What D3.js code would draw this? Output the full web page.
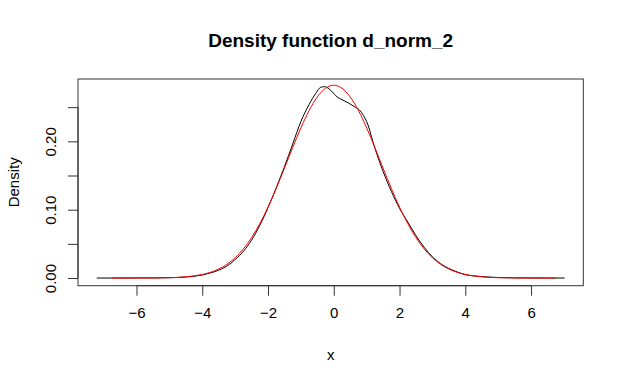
<!DOCTYPE html>
<html>
<head>
<meta charset="utf-8">
<script src="https://cdn.jsdelivr.net/npm/d3@7"></script>
<style>
  body { margin: 0; background: #fff; }
  svg text { font-family: "Liberation Sans", Arial, sans-serif; fill: #000; }
</style>
</head>
<body>
<div class="chart"></div>
<script>
// kernel density of the sample (black)
var densX = [-7.21, -6.5, -6.0, -5.5, -5.0, -4.5, -4.0, -3.75, -3.5, -3.25, -3.0, -2.75, -2.5, -2.25,
             -2.0, -1.75, -1.5, -1.25, -1.0, -0.75, -0.55, -0.40, -0.28, -0.15, 0.0, 0.1, 0.25, 0.45,
             0.65, 0.78, 0.90, 1.0, 1.25, 1.5, 1.75, 2.0, 2.25, 2.5, 2.75, 3.0, 3.25, 3.5, 3.75,
             4.0, 4.5, 5.0, 5.5, 6.0, 6.5, 7.02];
var densY = [0, 0.0000, 0.0001, 0.0002, 0.0005, 0.0015, 0.0045, 0.0075, 0.0115, 0.0175, 0.0270, 0.0390, 0.0555, 0.0770,
             0.1030, 0.1320, 0.1630, 0.1960, 0.2290, 0.2540, 0.2700, 0.2790, 0.2800, 0.2770, 0.2700, 0.2650, 0.2610, 0.2560,
             0.2500, 0.2460, 0.2380, 0.2290, 0.1900, 0.1560, 0.1270, 0.1020, 0.0820, 0.0620, 0.0450, 0.0310, 0.0210, 0.0140, 0.0090,
             0.0050, 0.0022, 0.0008, 0.0003, 0.0001, 0.0000, 0];

// theoretical curve (red)
var normX = [-6.74, -6.0, -5.5, -5.0, -4.5, -4.0, -3.75, -3.5, -3.25, -3.0, -2.75, -2.5, -2.25, -2.0, -1.75, -1.5,
             -1.25, -1.0, -0.75, -0.5, -0.25, 0, 0.25, 0.5, 0.75, 1.0, 1.25, 1.5, 1.75, 2.0, 2.25, 2.5,
             2.75, 3.0, 3.25, 3.5, 3.75, 4.0, 4.5, 5.0, 5.5, 6.0, 6.74];
var normY = [0.00001, 0.00004, 0.00015, 0.0005, 0.0018, 0.0052, 0.0084, 0.0132, 0.0201, 0.0297, 0.0426, 0.0591, 0.0796, 0.1038, 0.1312, 0.1607,
             0.1909, 0.2197, 0.2451, 0.2650, 0.2777, 0.2821, 0.2777, 0.2650, 0.2451, 0.2197, 0.1909, 0.1607, 0.1312, 0.1038, 0.0796, 0.0591,
             0.0426, 0.0297, 0.0201, 0.0132, 0.0084, 0.0052, 0.0018, 0.0005, 0.00015, 0.00004, 0.00001];

var xTicks = [-6, -4, -2, 0, 2, 4, 6];
var yTicks = [0, 0.05, 0.10, 0.15, 0.20, 0.25];
var yLabels = ["0.00", "0.10", "0.20"];

var chartTitle = "Density function d_norm_2";
var xTitle = "x";
var yTitle = "Density";

var w = 624, h = 384;
var box = {left: 78, right: 583.3, top: 79, bottom: 285.7};

var svg = d3.select("div.chart")
  .append("svg")
  .attr("width", w)
  .attr("height", h);

// R style: data range padded 4% each side
var xr = [d3.min(densX), d3.max(densX)];
var xpad = (xr[1] - xr[0]) * 0.04;
var x = d3.scaleLinear()
  .domain([xr[0] - xpad, xr[1] + xpad])
  .range([box.left, box.right]);

var yr = [0, d3.max(densY)];
var ypad = (yr[1] - yr[0]) * 0.04;
var y = d3.scaleLinear()
  .domain([yr[0] - ypad, yr[1] + ypad])
  .range([box.bottom, box.top]);

var line = d3.line()
  .x(function(d){ return x(d[0]); })
  .y(function(d){ return y(d[1]); })
  .curve(d3.curveMonotoneX);

svg.append("path")
  .datum(d3.zip(densX, densY))
  .attr("d", line)
  .attr("fill", "none")
  .attr("stroke", "#000")
  .attr("stroke-width", 1);

svg.append("path")
  .datum(d3.zip(normX, normY))
  .attr("d", line)
  .attr("fill", "none")
  .attr("stroke", "#ff0000")
  .attr("stroke-width", 1);

// box
svg.append("rect")
  .attr("x", box.left)
  .attr("y", box.top)
  .attr("width", box.right - box.left)
  .attr("height", box.bottom - box.top)
  .attr("fill", "none")
  .attr("stroke", "#333")
  .attr("stroke-width", 1);

// x axis
var xAxis = d3.axisBottom(x)
  .tickValues(xTicks)
  .tickSize(10)
  .tickPadding(12)
  .tickFormat(d3.format("d"));
var gx = svg.append("g")
  .attr("transform", "translate(0," + box.bottom + ")")
  .call(xAxis);
gx.select(".domain").attr("d", "M" + x(xTicks[0]) + ",0H" + x(xTicks[xTicks.length - 1]));
gx.selectAll("text").attr("font-size", 15).attr("font-family", "Liberation Sans, Arial, sans-serif");
gx.selectAll("line, path").attr("stroke", "#333");

// y axis
var yAxis = d3.axisLeft(y)
  .tickValues(yTicks)
  .tickSize(10)
  .tickFormat(function(d){
    var s = d3.format(".2f")(d);
    return yLabels.indexOf(s) >= 0 ? s : "";
  });
var gy = svg.append("g")
  .attr("transform", "translate(" + box.left + ",0)")
  .call(yAxis);
gy.select(".domain").attr("d", "M0," + y(yTicks[0]) + "V" + y(yTicks[yTicks.length - 1]));
gy.selectAll("line, path").attr("stroke", "#333");
gy.selectAll("text")
  .attr("font-size", 15)
  .attr("font-family", "Liberation Sans, Arial, sans-serif")
  .attr("x", null)
  .attr("dy", null)
  .attr("text-anchor", "middle")
  .attr("transform", "translate(-22,0) rotate(-90)");

// titles
svg.append("text")
  .attr("x", (box.left + box.right) / 2)
  .attr("y", 47)
  .attr("text-anchor", "middle")
  .attr("font-size", 19)
  .attr("font-weight", "bold")
  .text(chartTitle);

svg.append("text")
  .attr("x", (box.left + box.right) / 2)
  .attr("y", 360)
  .attr("text-anchor", "middle")
  .attr("font-size", 15)
  .text(xTitle);

svg.append("text")
  .attr("transform", "translate(19," + ((box.top + box.bottom) / 2) + ") rotate(-90)")
  .attr("text-anchor", "middle")
  .attr("font-size", 15)
  .text(yTitle);
</script>
</body>
</html>
